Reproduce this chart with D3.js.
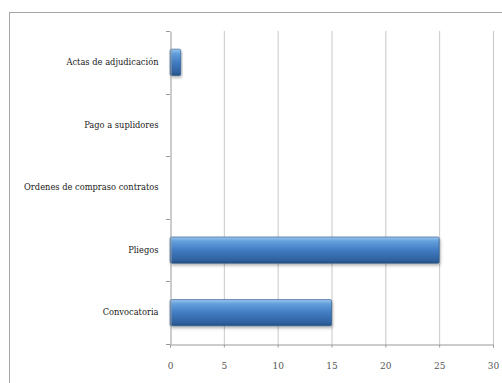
<!DOCTYPE html>
<html>
<head>
<meta charset="utf-8">
<script src="https://cdn.jsdelivr.net/npm/d3@7"></script>
<style>
  html, body { margin: 0; padding: 0; background: #fff; }
  svg { display: block; }
  .lbl { font-family: "DejaVu Serif", serif; }
</style>
</head>
<body>
<svg id="chart" width="502" height="383"></svg>
<script>
// Categories listed bottom to top as they appear on the vertical axis
const categories = ["Convocatoria", "Pliegos", "Ordenes de compraso contratos", "Pago a suplidores", "Actas de adjudicación"];
const values = [15, 25, 0, 0, 1];
const xTicks = [0, 5, 10, 15, 20, 25, 30];

const svg = d3.select("#chart");
const W = 502, H = 383;
const plot = { left: 170, right: 493, top: 31, bottom: 344 };

// Outer chart frame
svg.append("rect")
  .attr("x", 9.5).attr("y", 12.5)
  .attr("width", W).attr("height", H)
  .attr("fill", "#fff")
  .attr("stroke", "#a6a6a6").attr("stroke-width", 1);

const defs = svg.append("defs");
const grad = defs.append("linearGradient")
  .attr("id", "barGrad").attr("x1", 0).attr("y1", 0).attr("x2", 0).attr("y2", 1);
grad.append("stop").attr("offset", "0%").attr("stop-color", "#9cc6ee");
grad.append("stop").attr("offset", "16%").attr("stop-color", "#64a0dc");
grad.append("stop").attr("offset", "50%").attr("stop-color", "#417cc2");
grad.append("stop").attr("offset", "88%").attr("stop-color", "#2f619f");
grad.append("stop").attr("offset", "100%").attr("stop-color", "#24507f");

const shadow = defs.append("filter").attr("id", "barShadow")
  .attr("x", "-10%").attr("y", "-30%").attr("width", "130%").attr("height", "180%");
shadow.append("feDropShadow")
  .attr("dx", 1).attr("dy", 2).attr("stdDeviation", 1.5)
  .attr("flood-color", "#000").attr("flood-opacity", 0.3);

const x = d3.scaleLinear().domain([0, 30]).range([plot.left, plot.right]);
const y = d3.scaleBand().domain(categories)
  .range([plot.bottom, plot.top])
  .paddingInner(0.58).paddingOuter(0.29);
const yBands = d3.scaleBand().domain(categories).range([plot.bottom, plot.top]);

// Vertical gridlines
svg.append("g").selectAll("line")
  .data(xTicks.filter(d => d > 0))
  .join("line")
  .attr("x1", d => x(d) + 0.5).attr("x2", d => x(d) + 0.5)
  .attr("y1", plot.top).attr("y2", plot.bottom)
  .attr("stroke", "#c8c8c8").attr("stroke-width", 1);

// Bars
svg.append("g").selectAll("rect")
  .data(categories.map((c, i) => ({ c, v: values[i] })).filter(d => d.v > 0))
  .join("rect")
  .attr("x", x(0))
  .attr("y", d => y(d.c))
  .attr("width", d => x(d.v) - x(0))
  .attr("height", y.bandwidth())
  .attr("rx", 1.5)
  .attr("fill", "url(#barGrad)")
  .attr("stroke", "#2a5788").attr("stroke-width", 0.6)
  .attr("filter", "url(#barShadow)");

// Horizontal (value) axis
const xAxis = svg.append("g")
  .attr("transform", `translate(0,${plot.bottom + 0.5})`)
  .call(d3.axisBottom(x).tickValues(xTicks).tickSize(3).tickPadding(15).tickFormat(d3.format("d")));
xAxis.attr("font-family", null);
xAxis.select(".domain").attr("stroke", "#999");
xAxis.selectAll(".tick line").attr("stroke", "#999");
xAxis.selectAll("text")
  .attr("class", "lbl")
  .attr("fill", "#555").style("font-size", "9px");

// Vertical (category) axis
const yAxis = svg.append("g")
  .attr("transform", `translate(${plot.left + 0.5},0)`)
  .call(d3.axisLeft(yBands).tickSize(0).tickPadding(12));
yAxis.attr("font-family", null);
yAxis.select(".domain").attr("stroke", "#999");
yAxis.selectAll("text")
  .attr("class", "lbl")
  .attr("fill", "#1a1a1a").style("font-size", "8.3px");

// Category separators (ticks between bands)
svg.append("g").selectAll("line")
  .data(d3.range(categories.length + 1))
  .join("line")
  .attr("x1", plot.left - 4).attr("x2", plot.left)
  .attr("y1", i => Math.round(plot.bottom - i * yBands.step()) + 0.5)
  .attr("y2", i => Math.round(plot.bottom - i * yBands.step()) + 0.5)
  .attr("stroke", "#999");
</script>
</body>
</html>
